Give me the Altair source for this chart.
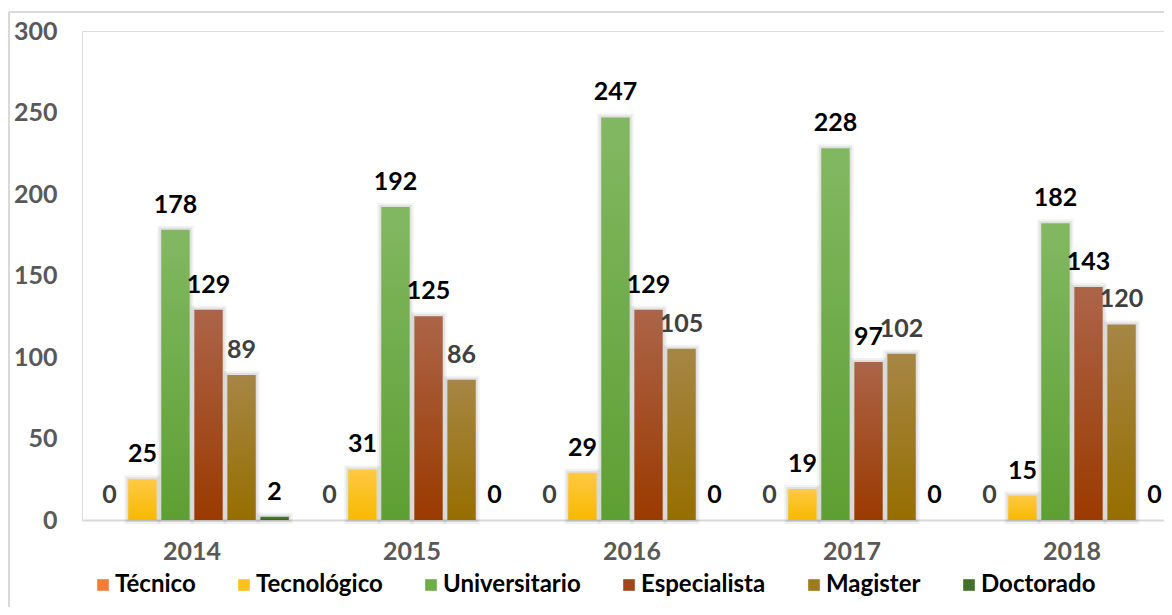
import altair as alt
import pandas as pd

years = ["2014", "2015", "2016", "2017", "2018"]
series = ["Técnico", "Tecnológico", "Universitario", "Especialista", "Magister", "Doctorado"]
tecnico = [0, 0, 0, 0, 0]
tecnologico = [25, 31, 29, 19, 15]
universitario = [178, 192, 247, 228, 182]
especialista = [129, 125, 129, 97, 143]
magister = [89, 86, 105, 102, 120]
doctorado = [2, 0, 0, 0, 0]

values_by_series = [tecnico, tecnologico, universitario, especialista, magister, doctorado]
legend_colors = ["#F27E36", "#FFC21A", "#6EAD48", "#A2461A", "#9E7A1C", "#43712A"]
grad_top = ["#F5914F", "#FFC944", "#82B862", "#AC6448", "#A68645", "#4E7A38"]
grad_bottom = ["#ED6F1F", "#F7B900", "#5E9F33", "#9A3A00", "#966E00", "#3A6320"]
label_colors = ["#404040", "#000000", "#000000", "#000000", "#404040", "#000000"]

rows = []
for s, vals in zip(series, values_by_series):
    for y, v in zip(years, vals):
        rows.append({"year": y, "series": s, "value": v})
df = pd.DataFrame(rows)

FONT = "Lato"
FS = 25

def grad(top, bottom):
    return {"gradient": "linear", "x1": 0, "y1": 0, "x2": 0, "y2": 1,
            "stops": [{"offset": 0, "color": top}, {"offset": 1, "color": bottom}]}

fill_def = {
    "condition": [
        {"test": f"datum.series === '{s}'", "value": grad(t, b)}
        for s, t, b in zip(series[:-1], grad_top[:-1], grad_bottom[:-1])
    ],
    "value": grad(grad_top[-1], grad_bottom[-1]),
}
label_fill = {
    "condition": [
        {"test": f"datum.series === '{s}'", "value": c}
        for s, c in zip(series, label_colors) if c != "#000000"
    ],
    "value": "#000000",
}

x_enc = alt.X("year:N", title=None,
              scale=alt.Scale(range=[0, 1100], paddingInner=0.12, paddingOuter=0.06),
              axis=alt.Axis(labelFont=FONT, labelFontSize=FS, labelFontWeight="bold",
                            labelColor="#595959", labelPadding=19, ticks=False,
                            domainColor="#D9D9D9", domainWidth=2, labelAngle=0))
xo_enc = alt.XOffset("series:N", sort=series,
                     scale=alt.Scale(domain=series, paddingInner=0.14, paddingOuter=0))
y_enc = alt.Y("value:Q", title=None,
              scale=alt.Scale(domain=[0, 300], nice=False),
              axis=alt.Axis(values=[0, 50, 100, 150, 200, 250, 300], grid=False,
                            domain=False, ticks=False, labelFont=FONT, labelFontSize=FS,
                            labelFontWeight="bold", labelColor="#595959", labelPadding=25,
                            format="d"))

base = alt.Chart(df)

shadow1 = base.mark_bar(fill="#000000", fillOpacity=0.0, stroke="#000000",
                        strokeOpacity=0.05, strokeWidth=8).encode(
    x=x_enc, xOffset=xo_enc, y=y_enc).transform_filter("datum.value > 0")
shadow2 = base.mark_bar(fill="#000000", fillOpacity=0.0, stroke="#000000",
                        strokeOpacity=0.07, strokeWidth=4).encode(
    x=x_enc, xOffset=xo_enc, y=y_enc).transform_filter("datum.value > 0")

bars = base.mark_bar().encode(
    x=x_enc, xOffset=xo_enc, y=y_enc,
    fill=fill_def,
)

legend_layer = base.mark_bar().encode(
    x=x_enc, xOffset=xo_enc, y=y_enc,
    color=alt.Color("series:N", sort=series,
                    scale=alt.Scale(domain=series, range=legend_colors),
                    legend=alt.Legend(title=None, orient="none", legendX=9, legendY=542,
                                      direction="horizontal", symbolType="square",
                                      symbolSize=135, symbolStrokeWidth=0,
                                      labelFont=FONT, labelFontSize=24,
                                      labelFontWeight="bold", labelColor="#000000",
                                      labelOffset=0, columnPadding=36, columns=6)),
).transform_filter("false")

labels = base.mark_text(font=FONT, fontSize=FS, fontWeight="bold", dy=-17,
                        baseline="alphabetic", align="center").encode(
    x=x_enc, xOffset=xo_enc, y=y_enc, text=alt.Text("value:Q", format="d"),
    fill=label_fill,
)

one = pd.DataFrame({"k": [0]})
border_left = alt.Chart(one).mark_rule(color="#D9D9D9", strokeWidth=2).encode(
    x=alt.value(-73), y=alt.value(-19), y2=alt.value(600))
border_top = alt.Chart(one).mark_rule(color="#D9D9D9", strokeWidth=2).encode(
    x=alt.value(-73), x2=alt.value(1120), y=alt.value(-19))

chart = alt.layer(shadow1, shadow2, legend_layer, bars, labels, border_left, border_top).properties(
    width=1082, height=489,
    autosize=alt.AutoSizeParams(type="none"),
    padding={"left": 74, "top": 23, "right": 0, "bottom": 87},
).configure_view(stroke=None).configure(background="white")

chart.save("out.html", embed_options={"renderer": "svg", "actions": False})
